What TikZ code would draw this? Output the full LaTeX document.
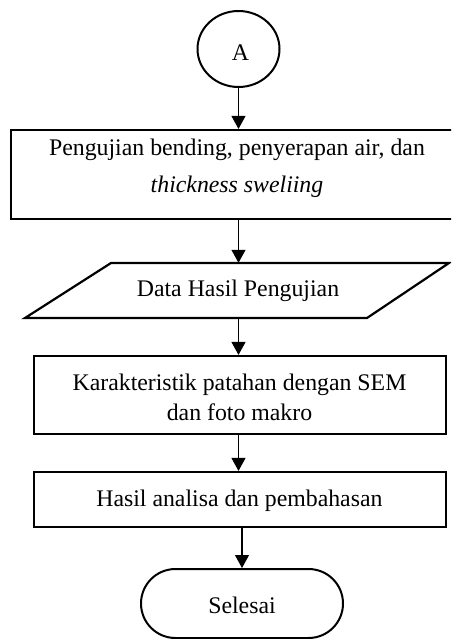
\documentclass[tikz,border=0pt]{standalone}
\usepackage{fontspec}
\setmainfont{Liberation Serif}
\usetikzlibrary{shapes.geometric,arrows.meta}
\tikzset{
  shp/.style={draw=black, line width=2.2pt, inner sep=0pt},
  txt/.style={inner sep=0pt, font=\fontsize{23.8}{37.7}\selectfont},
  arr/.style={line width=1.2pt, -{Triangle[width=14pt,length=13pt]}}
}
\begin{document}
\begin{tikzpicture}[x=1pt,y=-1pt]
\useasboundingbox (0,0) rectangle (451,639);
\clip (0,0) rectangle (451,639);
% shapes
\node[shp, ellipse, line width=2pt, minimum width=82pt, minimum height=76pt] (A) at (238.5,49) {};
\node[shp, rectangle, minimum width=453pt, minimum height=89pt] (b1) at (237.5,174.5) {};
\node[inner sep=0pt, minimum width=256pt, minimum height=55pt] (para) at (237,290.5) {};
\coordinate (p1) at (25,318);
\coordinate (p2) at (111,263);
\coordinate (p3) at (449,263);
\coordinate (p4) at (367,318);
\draw[line width=2.2pt, line join=miter] (p1) -- (p2) -- (p3) -- (p4) -- cycle;
\node[shp, rectangle, minimum width=412pt, minimum height=78pt] (b2) at (239.7,395) {};
\node[shp, rectangle, minimum width=412pt, minimum height=55pt] (b3) at (239.7,499.5) {};
\node[shp, rectangle, rounded corners=34.5pt, line width=2pt, minimum width=202pt, minimum height=69pt] (term) at (242,603.5) {};
% texts
\node[txt, anchor=base] (tA) at (240.5,61) {A};
\node[txt, align=center] (t1) at (237,168.3) {Pengujian bending, penyerapan air, dan\\\textit{thickness sweliing}};
\node[txt, anchor=base] (tp) at (238,296.7) {Data Hasil Pengujian};
\node[txt, align=center, font=\fontsize{23.8}{30.7}\selectfont] (t2) at (239.5,397.3) {Karakteristik patahan dengan SEM\\dan foto makro};
\node[txt, anchor=base] (t3) at (239.4,506) {Hasil analisa dan pembahasan};
\node[txt, anchor=base] (tt) at (242,613) {Selesai};
% connectors
\draw[arr] (A.south) -- (A.south |- b1.north);
\draw[arr] (A |- b1.south) -- (A |- para.north);
\draw[arr] (A |- para.south) -- (A |- b2.north);
\draw[arr] (A |- b2.south) -- (A |- b3.north);
\draw[arr] (term.north |- b3.south) -- (term.north);
\end{tikzpicture}
\end{document}
